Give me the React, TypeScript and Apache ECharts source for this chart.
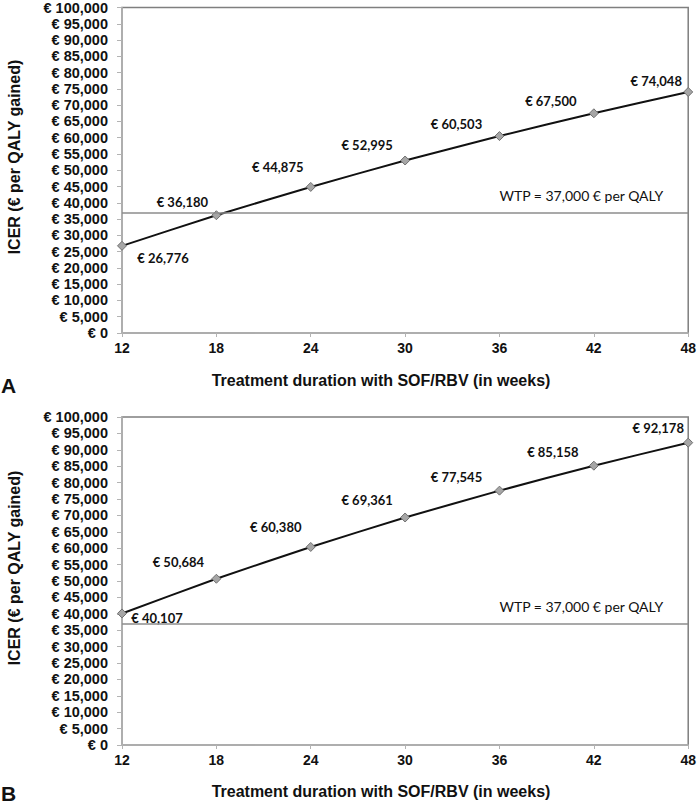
import React, { useEffect, useRef } from "react";
import * as echarts from "echarts";

const weeks = ["12", "18", "24", "30", "36", "42", "48"];
const icerA = [26776, 36180, 44875, 52995, 60503, 67500, 74048];
const icerB = [40107, 50684, 60380, 69361, 77545, 85158, 92178];
const wtp = 37000;
const yMin = 0;
const yMax = 100000;
const yStep = 5000;

const xTitle = "Treatment duration with SOF/RBV (in weeks)";
const yTitle = "ICER (€ per QALY gained)";
const wtpLabel = "WTP = 37,000 € per QALY";
const panelLetters = ["A", "B"];

const offsetsA: [number, number][] = [[41, 12], [-34, -13], [-33, -20], [-38, -16], [-43, -12], [-43, -12], [-32, -11]];
const offsetsB: [number, number][] = [[35, 5], [-38, -17], [-35, -20], [-38, -17], [-43, -14], [-41, -14], [-30, -15]];

const fmtEuro = (v: number) => "€ " + v.toLocaleString("en-US");

const grids = [
  { left: 122, top: 6, width: 572, height: 327 },
  { left: 122, top: 417, width: 572, height: 328 },
];

function makeSeries(values: number[], offsets: [number, number][], idx: number) {
  return {
    type: "line",
    xAxisIndex: idx,
    yAxisIndex: idx,
    smooth: 0.15,
    symbol: "diamond",
    symbolSize: 9,
    lineStyle: { color: "#111", width: 2 },
    itemStyle: { color: "#a6a6a6", borderColor: "#707070", borderWidth: 1 },
    label: {
      show: true,
      position: "inside",
      formatter: (p: any) => fmtEuro(p.value),
      fontFamily: "Lato",
      fontWeight: "bold",
      fontSize: 13,
      color: "#111",
    },
    data: values.map((v, i) => ({ value: v, label: { offset: offsets[i] } })),
    markLine: {
      silent: true,
      symbol: "none",
      data: [{ yAxis: wtp }],
      lineStyle: { color: "#8c8c8c", width: 1.5, type: "solid" },
      label: {
        show: true,
        position: "insideEndTop",
        distance: [25, 10],
        formatter: wtpLabel,
        fontFamily: "Lato",
        fontSize: 14,
        color: "#111",
      },
    },
    z: 3,
  };
}

export default function App() {
  const ref = useRef<HTMLDivElement>(null);
  useEffect(() => {
    if (!ref.current) return;
    const chart = echarts.init(ref.current, undefined, { renderer: "svg" });
    const xAxes = grids.map((_, i) => ({
      type: "category",
      gridIndex: i,
      data: weeks,
      boundaryGap: false,
      axisLine: { lineStyle: { color: "#b3b3b3", width: 1.5 } },
      axisTick: { show: true, length: 4, lineStyle: { color: "#b3b3b3" } },
      axisLabel: {
        color: "#111",
        fontFamily: "Liberation Sans",
        fontWeight: "bold",
        fontSize: 14,
        margin: 8,
      },
      splitLine: { show: false },
    }));
    const yAxes = grids.map((_, i) => ({
      type: "value",
      gridIndex: i,
      min: yMin,
      max: yMax,
      interval: yStep,
      axisLine: { show: true, lineStyle: { color: "#b3b3b3", width: 1.5 } },
      axisTick: { show: true, length: 5, lineStyle: { color: "#b3b3b3" } },
      axisLabel: {
        color: "#111",
        fontFamily: "Liberation Sans",
        fontWeight: "bold",
        fontSize: 14.5,
        margin: 14,
        formatter: (v: number) => fmtEuro(v),
      },
      splitLine: { show: false },
    }));
    const graphic: any[] = [];
    const titleX = [{ x: 381, y: 380 }, { x: 381, y: 791 }];
    const titleY = [{ x: 14, y: 157 }, { x: 14, y: 568 }];
    const letterPos = [{ x: 1, y: 385 }, { x: 1, y: 793 }];
    for (let i = 0; i < 2; i++) {
      graphic.push({
        type: "text",
        x: titleX[i].x,
        y: titleX[i].y,
        style: {
          text: xTitle,
          font: "bold 16px 'Liberation Sans'",
          fill: "#111",
          align: "center",
          verticalAlign: "middle",
        },
      });
      graphic.push({
        type: "text",
        x: titleY[i].x,
        y: titleY[i].y,
        rotation: Math.PI / 2,
        style: {
          text: yTitle,
          font: "bold 16px 'Liberation Sans'",
          fill: "#111",
          align: "center",
          verticalAlign: "middle",
        },
      });
      graphic.push({
        type: "text",
        x: letterPos[i].x,
        y: letterPos[i].y,
        style: {
          text: panelLetters[i],
          font: "bold 21px 'Liberation Sans'",
          fill: "#111",
          align: "left",
          verticalAlign: "middle",
        },
      });
    }
    chart.setOption({
      animation: false,
      backgroundColor: "#fff",
      grid: grids.map((g) => ({ ...g, show: true, borderColor: "#7f7f7f", borderWidth: 1.5, containLabel: false })),
      xAxis: xAxes,
      yAxis: yAxes,
      series: [makeSeries(icerA, offsetsA, 0), makeSeries(icerB, offsetsB, 1)],
      graphic,
    });
    return () => chart.dispose();
  }, []);
  return (
    <div
      ref={ref}
      style={{ position: "absolute", left: 0, top: 0, width: 699, height: 804 }}
    />
  );
}
